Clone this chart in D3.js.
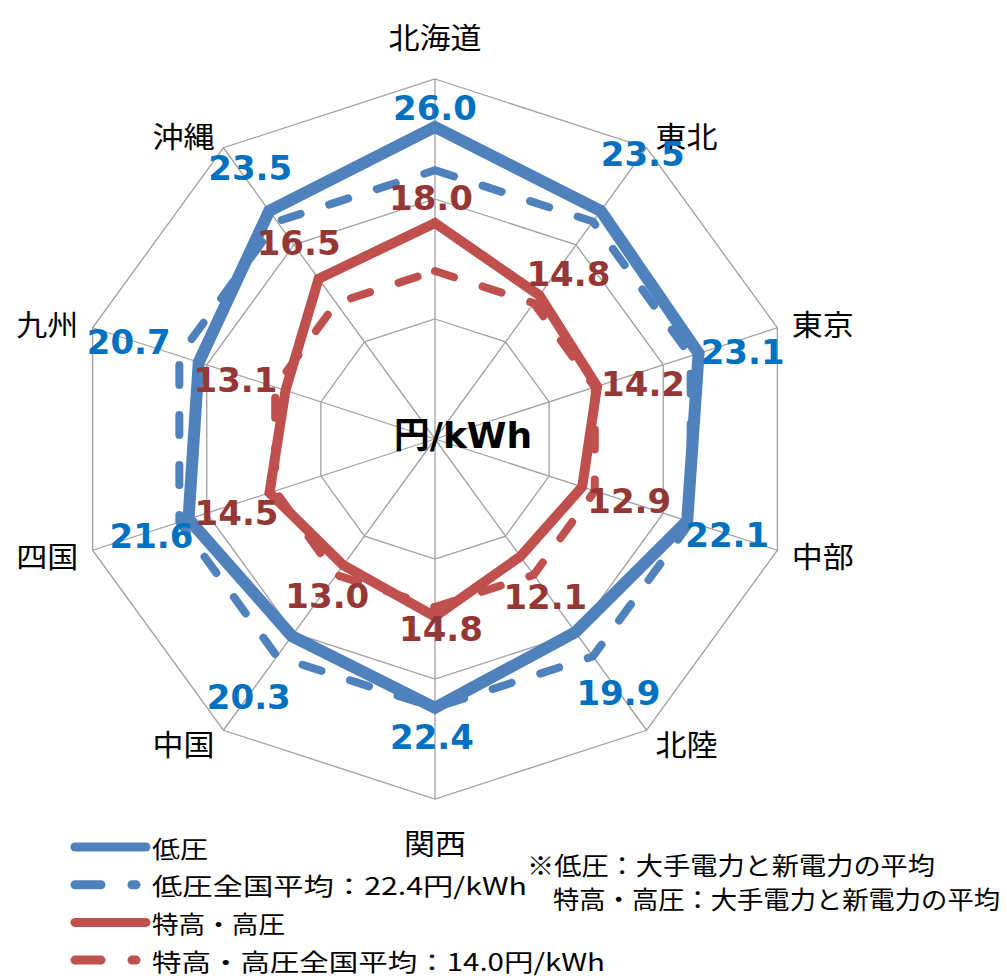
<!DOCTYPE html>
<html lang="ja">
<head>
<meta charset="utf-8">
<script src="https://cdn.jsdelivr.net/npm/d3@7"></script>
<style>
  html, body { margin: 0; padding: 0; background: #fff; }
  svg { display: block; }
</style>
</head>
<body>
<svg id="chart" width="1007" height="978"></svg>
<script>
// ---- data ----
const categories = ["北海道", "東北", "東京", "中部", "北陸", "関西", "中国", "四国", "九州", "沖縄"];
const lowVoltage  = [26.0, 23.5, 23.1, 22.1, 19.9, 22.4, 20.3, 21.6, 20.7, 23.5];
const lowAverage  = [22.4, 22.4, 22.4, 22.4, 22.4, 22.4, 22.4, 22.4, 22.4, 22.4];
const highVoltage = [18.0, 14.8, 14.2, 12.9, 12.1, 14.8, 13.0, 14.5, 13.1, 16.5];
const highAverage = [14.0, 14.0, 14.0, 14.0, 14.0, 14.0, 14.0, 14.0, 14.0, 14.0];
const ringTicks = [10, 20, 30];
const legendLabels = ["低圧", "低圧全国平均：22.4円/kWh", "特高・高圧", "特高・高圧全国平均：14.0円/kWh"];
const noteLines = ["※低圧：大手電力と新電力の平均", "特高・高圧：大手電力と新電力の平均"];
const unitLabel = "円/kWh";

// ---- layout ----
const cx = 435, cy = 439;
const n = categories.length;
const r = d3.scaleLinear().domain([0, 30]).range([0, 360]);
const ang = i => i * 2 * Math.PI / n;
const pt = (i, v) => [cx + r(v) * Math.sin(ang(i)), cy - r(v) * Math.cos(ang(i))];

// hand-placed nudges (px) of the value labels from their points
const lowLabelShift  = [[0,-19],[42,-57],[44,-1],[40,14],[43,61],[-3,29],[-43,61],[-37,17],[-70,-20],[-19,-43]];
const highLabelShift = [[-4,-25],[29,-21],[46,-2],[47,14],[25,41],[6,12],[-16,31],[-33,20],[-50,-10],[-20,-36]];

const svg = d3.select("#chart");
const g = svg.append("g").attr("transform", `translate(${cx},${cy})`);

const radial = d3.lineRadial()
  .angle((d, i) => ang(i))
  .radius(d => r(d))
  .curve(d3.curveLinearClosed);

// grid rings
g.selectAll("path.ring")
  .data(ringTicks)
  .join("path")
  .attr("class", "ring")
  .attr("d", t => radial(categories.map(() => t)))
  .attr("fill", "none")
  .attr("stroke", "#a0a0a0")
  .attr("stroke-width", 1.3);

// spokes
g.selectAll("line.spoke")
  .data(categories)
  .join("line")
  .attr("class", "spoke")
  .attr("x1", 0).attr("y1", 0)
  .attr("x2", (d, i) => r(r.domain()[1]) * Math.sin(ang(i)))
  .attr("y2", (d, i) => -r(r.domain()[1]) * Math.cos(ang(i)))
  .attr("stroke", "#a0a0a0")
  .attr("stroke-width", 1.3);

// series
const series = [
  { values: lowVoltage,  color: "#4F81BD", width: 12, dash: null },
  { values: lowAverage,  color: "#4F81BD", width: 8,  dash: "20 30" },
  { values: highVoltage, color: "#C0504D", width: 10, dash: null },
  { values: highAverage, color: "#C0504D", width: 8,  dash: "20 30" }
];
g.selectAll("path.series")
  .data(series)
  .join("path")
  .attr("class", "series")
  .attr("d", s => radial(s.values))
  .attr("fill", "none")
  .attr("stroke", s => s.color)
  .attr("stroke-width", s => s.width)
  .attr("stroke-linejoin", "miter")
  .attr("stroke-linecap", s => s.dash ? "round" : "butt")
  .attr("stroke-dasharray", s => s.dash);

// unit caption in the middle
svg.append("text")
  .attr("x", 463).attr("y", 435)
  .attr("text-anchor", "middle")
  .attr("dominant-baseline", "central")
  .attr("font-family", "'DejaVu Sans', 'Noto Sans CJK JP', sans-serif")
  .attr("font-weight", "bold")
  .attr("font-size", 36)
  .attr("fill", "#000")
  .text(unitLabel);

// category labels just outside the outer ring
const outer = r.domain()[1];
svg.selectAll("text.cat")
  .data(categories)
  .join("text")
  .attr("class", "cat")
  .each(function (d, i) {
    const [vx, vy] = pt(i, outer);
    const s = Math.sin(ang(i)), c = Math.cos(ang(i));
    const el = d3.select(this);
    if (Math.abs(s) > 0.01) {
      el.attr("x", vx + 15 * s)
        .attr("y", vy - 16 * c)
        .attr("text-anchor", s > 0 ? "start" : "end");
    } else {
      el.attr("x", vx).attr("y", vy - 43 * c).attr("text-anchor", "middle");
    }
  })
  .attr("dominant-baseline", "central")
  .attr("font-family", "'Noto Sans CJK JP', sans-serif")
  .attr("font-size", 29)
  .attr("textLength", d => d.length * 31)
  .attr("lengthAdjust", "spacingAndGlyphs")
  .attr("fill", "#000")
  .text(d => d);

// value labels
const fmt = d3.format(".1f");
function valueLabels(values, shifts, color, cls) {
  svg.selectAll("text." + cls)
    .data(values)
    .join("text")
    .attr("class", cls)
    .attr("x", (v, i) => pt(i, v)[0] + shifts[i][0])
    .attr("y", (v, i) => pt(i, v)[1] + shifts[i][1])
    .attr("text-anchor", "middle")
    .attr("dominant-baseline", "central")
    .attr("font-family", "'DejaVu Sans', Verdana, sans-serif")
    .attr("font-weight", "bold")
    .attr("font-size", 34)
    .attr("fill", color)
    .text(v => fmt(v));
}
valueLabels(lowVoltage, lowLabelShift, "#0070C0", "lowLab");
valueLabels(highVoltage, highLabelShift, "#953735", "highLab");

// legend
const legendStyle = [
  { color: "#4F81BD", dash: null },
  { color: "#4F81BD", dash: "26 31" },
  { color: "#C0504D", dash: null },
  { color: "#C0504D", dash: "26 31" }
];
const legendWidths = [56, 375, 133, 453];
const legend = svg.append("g");
legendLabels.forEach((label, i) => {
  const y = 847 + i * 37.7;
  const st = legendStyle[i];
  legend.append("line")
    .attr("x1", 75).attr("x2", st.dash ? 136 : 146)
    .attr("y1", y).attr("y2", y)
    .attr("stroke", st.color)
    .attr("stroke-width", 9)
    .attr("stroke-linecap", "round")
    .attr("stroke-dasharray", st.dash);
  legend.append("text")
    .attr("x", 152).attr("y", y)
    .attr("dominant-baseline", "central")
    .attr("font-family", "'Noto Sans CJK JP', sans-serif")
    .attr("font-size", 24)
    .attr("textLength", legendWidths[i])
    .attr("lengthAdjust", "spacingAndGlyphs")
    .attr("fill", "#000")
    .text(label);
});

// footnote
const noteX = [527, 553], noteY = [864, 898], noteW = [408, 447];
noteLines.forEach((t, i) => {
  svg.append("text")
    .attr("x", noteX[i]).attr("y", noteY[i])
    .attr("dominant-baseline", "central")
    .attr("font-family", "'Noto Sans CJK JP', sans-serif")
    .attr("font-size", 25)
    .attr("textLength", noteW[i])
    .attr("lengthAdjust", "spacingAndGlyphs")
    .attr("fill", "#000")
    .text(t);
});
</script>
</body>
</html>
